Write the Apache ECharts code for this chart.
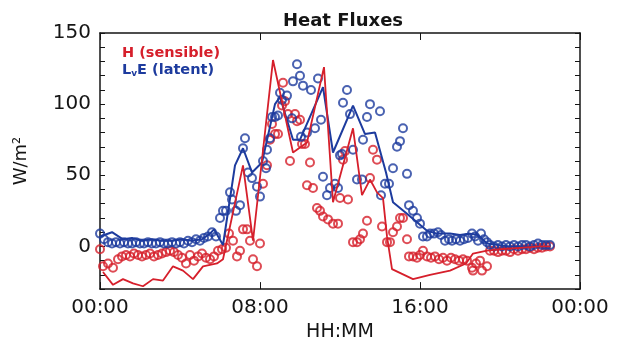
<!DOCTYPE html>
<html>
<head>
<meta charset="utf-8">
<script src="https://cdn.jsdelivr.net/npm/echarts@6/dist/echarts.min.js"></script>
<style>
  html, body { margin: 0; padding: 0; background: #fff; }
  #chart { width: 617px; height: 347px; }
</style>
</head>
<body>
<div id="chart"></div>
<script>
// hours of day on x, W/m2 on y
const xTicks = [0, 8, 16, 24];
const yTicks = [0, 50, 100, 150];

// model lines
const sensibleModel = [
  [0.15, -18], [0.65, -27], [1.15, -23], [1.65, -26], [2.15, -28], [2.65, -23],
  [3.15, -24], [3.65, -14], [4.15, -17], [4.65, -23], [5.15, -14], [5.85, -12],
  [6.15, -9], [7.15, 57], [7.65, 4], [8.65, 131], [9.65, 66], [10.35, 73],
  [11.2, 126], [11.65, 31], [12.65, 83], [13.1, 36], [13.5, 47], [13.85, 38],
  [14.15, 34], [14.35, 7], [14.6, -16], [15.65, -23], [16.5, -20], [17.5, -17],
  [18.3, -12], [18.65, -5], [19.35, -3], [20.0, -2], [21.0, -1], [22.0, 0], [22.5, 0]
];
const latentModel = [
  [0.0, 7], [0.6, 10], [1.15, 5], [1.6, 6], [2.1, 4], [2.6, 5], [3.1, 4], [3.6, 4],
  [4.1, 5], [4.6, 4], [5.1, 5], [5.5, 9], [5.7, 12], [6.15, 1], [6.75, 57],
  [7.15, 69], [7.6, 52], [8.1, 59], [8.75, 100], [9.0, 105], [9.65, 75], [10.0, 75],
  [11.15, 112], [11.65, 66], [12.65, 99], [13.25, 79], [13.75, 80], [14.3, 52],
  [14.65, 31], [15.35, 23], [16.35, 11], [16.85, 9], [17.5, 9], [18.0, 8], [18.5, 9],
  [18.9, 8], [19.35, 2], [19.9, 1], [20.5, 0], [21.5, 0], [22.5, 0]
];

// observations (circles)
const sensibleObs = [
  [0.0, -2], [0.15, -14], [0.4, -12], [0.65, -15], [0.9, -9], [1.1, -7], [1.3, -6],
  [1.5, -7], [1.7, -5], [1.9, -6], [2.1, -7], [2.3, -6], [2.5, -5], [2.7, -7],
  [2.9, -6], [3.1, -5], [3.3, -4], [3.5, -3], [3.7, -4], [3.9, -6], [4.1, -8],
  [4.3, -12], [4.5, -6], [4.7, -10], [4.9, -7], [5.1, -5], [5.3, -8], [5.5, -9],
  [5.7, -7], [5.9, -3], [6.1, -2], [6.3, -1], [6.45, 9], [6.65, 4], [6.85, -7],
  [7.0, -3], [7.15, 12], [7.35, 12], [7.5, 4], [7.65, -9], [7.85, -14], [8.0, 2],
  [8.15, 44], [8.35, 57], [8.5, 75], [8.6, 86], [8.75, 79], [8.9, 79], [9.1, 99],
  [9.15, 115], [9.25, 102], [9.4, 93], [9.5, 60], [9.75, 93], [9.85, 88], [10.0, 89],
  [10.1, 72], [10.25, 72], [10.35, 43], [10.5, 59], [10.65, 41], [10.85, 27],
  [11.0, 25], [11.15, 21], [11.4, 19], [11.65, 16], [11.9, 16], [12.0, 34],
  [12.15, 61], [12.25, 67], [12.4, 33], [12.65, 3], [12.85, 3], [13.0, 5], [13.15, 9],
  [13.35, 18], [13.5, 48], [13.65, 68], [13.85, 61], [14.1, 14], [14.35, 3],
  [14.5, 3], [14.65, 10], [14.85, 14], [15.0, 20], [15.15, 20], [15.35, 5],
  [15.45, -7], [15.65, -7], [15.85, -8], [16.0, -6], [16.15, -3], [16.35, -7],
  [16.55, -8], [16.75, -7], [16.95, -9], [17.15, -8], [17.35, -10], [17.55, -8],
  [17.75, -9], [17.95, -10], [18.15, -9], [18.35, -10], [18.6, -15], [18.65, -17],
  [18.8, -12], [19.0, -10], [19.1, -17], [19.35, -14], [19.5, -3], [19.7, -3],
  [19.9, -4], [20.1, -3], [20.3, -3], [20.5, -4], [20.7, -2], [20.9, -3], [21.1, -2],
  [21.3, -2], [21.5, -1], [21.7, -2], [21.9, -1], [22.1, -1], [22.3, 0], [22.5, 0]
];
const latentObs = [
  [0.0, 9], [0.2, 5], [0.4, 3], [0.6, 2], [0.8, 3], [1.0, 2], [1.2, 3], [1.4, 2],
  [1.6, 2], [1.8, 3], [2.0, 2], [2.2, 2], [2.4, 3], [2.6, 2], [2.8, 2], [3.0, 3],
  [3.2, 2], [3.4, 2], [3.6, 3], [3.8, 2], [4.0, 3], [4.2, 2], [4.4, 4], [4.6, 3],
  [4.8, 5], [5.0, 4], [5.2, 6], [5.4, 7], [5.6, 10], [5.8, 7], [6.0, 20], [6.15, 25],
  [6.3, 25], [6.5, 38], [6.6, 33], [6.8, 25], [7.0, 29], [7.15, 69], [7.25, 76],
  [7.4, 52], [7.6, 48], [7.85, 42], [8.0, 35], [8.15, 60], [8.3, 55], [8.35, 68],
  [8.5, 76], [8.6, 91], [8.75, 91], [8.9, 92], [9.0, 108], [9.1, 103], [9.35, 106],
  [9.6, 90], [9.65, 116], [9.85, 128], [10.0, 120], [10.05, 77], [10.15, 113],
  [10.35, 80], [10.55, 110], [10.75, 83], [10.9, 118], [11.05, 89], [11.15, 49],
  [11.35, 36], [11.5, 41], [11.75, 44], [11.9, 41], [12.0, 64], [12.1, 65],
  [12.15, 101], [12.35, 110], [12.5, 93], [12.65, 68], [12.85, 47], [13.1, 47],
  [13.15, 75], [13.35, 91], [13.5, 100], [14.0, 95], [14.05, 36], [14.25, 44],
  [14.45, 44], [14.65, 55], [14.85, 70], [15.0, 74], [15.15, 83], [15.35, 51],
  [15.45, 29], [15.65, 25], [15.85, 20], [16.0, 16], [16.15, 7], [16.35, 7],
  [16.5, 9], [16.7, 9], [16.9, 10], [17.05, 8], [17.25, 4], [17.45, 5], [17.6, 4],
  [17.8, 5], [18.0, 4], [18.2, 5], [18.4, 6], [18.6, 9], [18.75, 7], [18.9, 4],
  [19.05, 9], [19.2, 5], [19.35, 3], [19.5, 1], [19.7, 0], [19.9, 1], [20.1, 0],
  [20.3, 1], [20.5, 0], [20.7, 1], [20.9, 0], [21.1, 1], [21.3, 1], [21.5, 0],
  [21.7, 1], [21.9, 2], [22.1, 1], [22.3, 1], [22.5, 1]
];

const RED = '#d61f2b';
const BLUE = '#1d3b9e';
const INK = '#151515';
const FONT = 'DejaVu Sans';

const chart = echarts.init(document.getElementById('chart'));

const hhmm = (v) => String(v % 24).padStart(2, '0') + ':00';

const yBase = {
  type: 'value',
  min: -30,
  max: 150,
  interval: 10,
  splitLine: { show: false },
  axisLine: { show: true, onZero: false, lineStyle: { color: INK, width: 1.5 } },
  axisTick: { show: true, inside: true, length: 5, lineStyle: { color: INK } }
};

const option = {
  animation: false,
  backgroundColor: '#fff',
  title: [
    {
      text: 'Heat Fluxes',
      left: 338,
      top: 7,
      textAlign: 'center',
      textStyle: { fontFamily: FONT, fontSize: 18, fontWeight: 'bold', color: INK }
    },
    {
      text: 'H (sensible)',
      left: 122,
      top: 46,
      padding: 0,
      textStyle: { fontFamily: FONT, fontSize: 14.5, fontWeight: 'bold', color: RED }
    },
    {
      text: 'L{s|v}E (latent)',
      left: 122,
      top: 62,
      padding: 0,
      textStyle: {
        fontFamily: FONT, fontSize: 14.5, fontWeight: 'bold', color: BLUE,
        rich: { s: { fontFamily: FONT, fontSize: 9, fontWeight: 'bold', color: BLUE, padding: [7, 0, 0, 0] } }
      }
    }
  ],
  grid: { left: 100, right: 37, top: 33, bottom: 50 },
  xAxis: [
    {
      type: 'value',
      min: 0,
      max: 24,
      interval: 8,
      name: 'HH:MM',
      nameLocation: 'middle',
      nameGap: 27,
      nameTextStyle: { fontFamily: FONT, fontSize: 19, color: INK },
      splitLine: { show: false },
      axisLine: { onZero: false, lineStyle: { color: INK, width: 1.5 } },
      axisTick: { inside: true, length: 7, lineStyle: { color: INK } },
      axisLabel: {
        fontFamily: FONT, fontSize: 20, color: INK, margin: 9,
        formatter: (v) => xTicks.includes(v) ? hhmm(v) : ''
      }
    },
    {
      type: 'value',
      position: 'top',
      min: 0,
      max: 24,
      interval: 8,
      splitLine: { show: false },
      axisLine: { onZero: false, lineStyle: { color: INK, width: 1.5 } },
      axisTick: { inside: true, length: 7, lineStyle: { color: INK } },
      axisLabel: { show: false }
    }
  ],
  yAxis: [
    Object.assign({}, yBase, {
      name: 'W/m²',
      nameLocation: 'middle',
      nameGap: 70,
      nameRotate: 90,
      nameTextStyle: { fontFamily: FONT, fontSize: 18, color: INK },
      axisLabel: {
        fontFamily: FONT, fontSize: 20, color: INK, margin: 9,
        formatter: (v) => yTicks.includes(v) ? String(v) : ''
      }
    }),
    Object.assign({}, yBase, { position: 'right', axisLabel: { show: false } })
  ],
  series: [
    {
      name: 'H obs',
      type: 'scatter',
      data: sensibleObs,
      symbol: 'circle',
      symbolSize: 8,
      itemStyle: { color: 'rgba(0,0,0,0)', borderColor: RED, borderWidth: 2 },
      z: 2
    },
    {
      name: 'LvE obs',
      type: 'scatter',
      data: latentObs,
      symbol: 'circle',
      symbolSize: 8,
      itemStyle: { color: 'rgba(0,0,0,0)', borderColor: BLUE, borderWidth: 2 },
      z: 3
    },
    {
      name: 'LvE model',
      type: 'line',
      data: latentModel,
      showSymbol: false,
      lineStyle: { color: BLUE, width: 2 },
      z: 4
    },
    {
      name: 'H model',
      type: 'line',
      data: sensibleModel,
      showSymbol: false,
      lineStyle: { color: RED, width: 1.8 },
      z: 5
    }
  ]
};

chart.setOption(option);
window.addEventListener('resize', () => chart.resize());
</script>
</body>
</html>
